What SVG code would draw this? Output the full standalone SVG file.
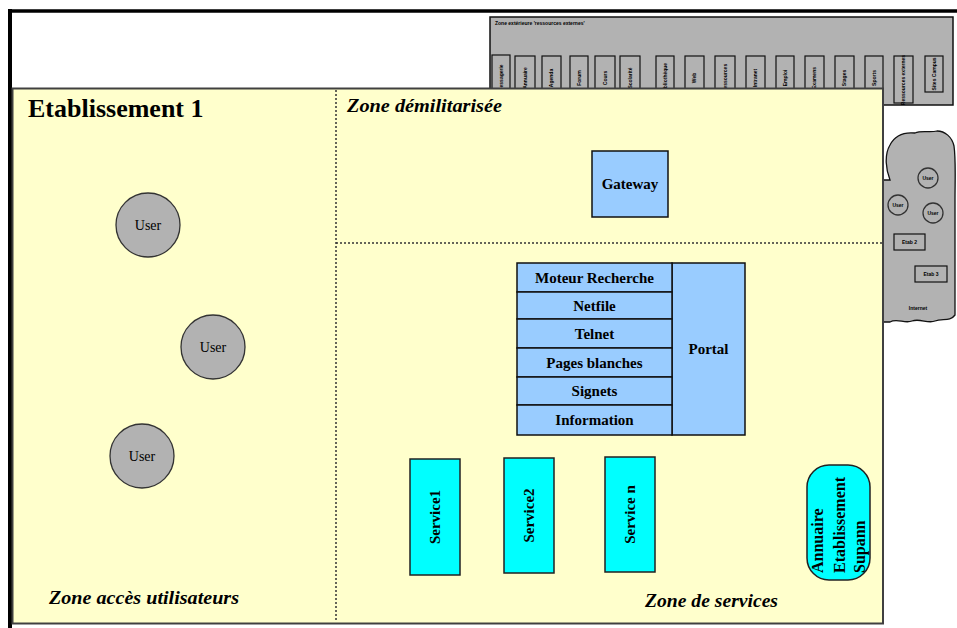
<svg xmlns="http://www.w3.org/2000/svg" width="957" height="628" viewBox="0 0 957 628">
<style>
.s{font-family:"Liberation Serif","Times New Roman",serif;fill:#000}
.b{font-weight:bold}
.zone{font-family:"Liberation Serif","Times New Roman",serif;font-weight:bold;font-style:italic;font-size:19px}
.lbl{font-family:"Liberation Serif","Times New Roman",serif;font-weight:bold;font-size:15px;text-anchor:middle}
.tiny{font-family:"Liberation Sans",Arial,sans-serif;font-weight:bold;font-size:5px}
.mini{fill:#B2B2B2;stroke:#111;stroke-width:1.2}
.user{fill:#B2B2B2;stroke:#333;stroke-width:1.3}
.blue{fill:#99CCFF;stroke:#111;stroke-width:1.5}
.cyan{fill:#00FFFF;stroke:#222;stroke-width:1.5}
.div{stroke:#333;stroke-width:1.5;stroke-dasharray:2 2;fill:none}
</style>
<rect width="957" height="628" fill="#fff"/>
<!-- outer black frame -->
<g id="frame">
<line x1="10" y1="11" x2="957" y2="11" stroke="#000" stroke-width="3.5"/>
<line x1="10" y1="9" x2="10" y2="628" stroke="#000" stroke-width="4"/>
</g>
<!-- external resources zone -->
<g id="zone-ressources">
<rect x="490" y="17" width="463" height="88" fill="#B2B2B2" stroke="#111" stroke-width="1.5"/>
<text class="tiny" x="495" y="25">Zone extérieure 'ressources externes'</text>
<rect class="mini" x="492" y="55" width="18" height="45"/>
<rect class="mini" x="515" y="56" width="20" height="44"/>
<rect class="mini" x="542" y="56" width="19" height="44"/>
<rect class="mini" x="570" y="56" width="18" height="44"/>
<rect class="mini" x="595" y="56" width="20" height="44"/>
<rect class="mini" x="620" y="56" width="20" height="44"/>
<rect class="mini" x="656" y="56" width="18" height="44"/>
<rect class="mini" x="685" y="56" width="19" height="44"/>
<rect class="mini" x="715" y="56" width="20" height="44"/>
<rect class="mini" x="746" y="56" width="19" height="44"/>
<rect class="mini" x="776" y="56" width="18" height="44"/>
<rect class="mini" x="805" y="56" width="19" height="44"/>
<rect class="mini" x="835" y="56" width="19" height="44"/>
<rect class="mini" x="865" y="56" width="18" height="44"/>
<rect class="mini" x="894" y="56" width="19" height="47"/>
<rect class="mini" x="925" y="56" width="18" height="36"/>
<g class="tiny" text-anchor="middle">
<text transform="translate(503,78) rotate(-90)">Messagerie</text>
<text transform="translate(527,78) rotate(-90)">Annuaire</text>
<text transform="translate(553,78) rotate(-90)">Agenda</text>
<text transform="translate(581,78) rotate(-90)">Forum</text>
<text transform="translate(607,78) rotate(-90)">Cours</text>
<text transform="translate(632,78) rotate(-90)">Scolarité</text>
<text transform="translate(667,78) rotate(-90)">Bibliothèque</text>
<text transform="translate(696,78) rotate(-90)">Web</text>
<text transform="translate(727,78) rotate(-90)">Ressources</text>
<text transform="translate(757,78) rotate(-90)">Intranet</text>
<text transform="translate(787,78) rotate(-90)">Emploi</text>
<text transform="translate(816,78) rotate(-90)">Examens</text>
<text transform="translate(846,78) rotate(-90)">Stages</text>
<text transform="translate(876,78) rotate(-90)">Sports</text>
<text transform="translate(905,80) rotate(-90)">Ressources externes</text>
<text transform="translate(936,74) rotate(-90)">Sites Campus</text>
</g>
</g>
<!-- internet cloud -->
<g id="internet">
<path d="M 870 180 L 890 180 C 886 170 884 155 890 145 C 895 135 905 132 915 133 C 922 130 930 133 937 131 C 945 131 952 137 954 146 C 956 160 955 180 955 200 L 955 315 C 950 322 942 318 935 321 C 928 324 920 318 912 321 C 905 324 897 318 890 322 L 870 322 Z" fill="#B2B2B2" stroke="#111" stroke-width="1.3"/>
<circle class="user" cx="928" cy="178" r="10"/>
<circle class="user" cx="898" cy="205" r="10"/>
<circle class="user" cx="933" cy="213" r="10"/>
<g class="tiny" text-anchor="middle">
<text x="928" y="180">User</text>
<text x="898" y="207">User</text>
<text x="933" y="215">User</text>
</g>
<rect x="894" y="234" width="31" height="16" fill="#B2B2B2" stroke="#111" stroke-width="1.2"/>
<rect x="915" y="266" width="32" height="16" fill="#B2B2B2" stroke="#111" stroke-width="1.2"/>
<text class="tiny" x="909.5" y="244" text-anchor="middle">Etab 2</text>
<text class="tiny" x="931" y="276" text-anchor="middle">Etab 3</text>
<text class="tiny" x="918" y="310" text-anchor="middle">Internet</text>
</g>
<!-- main establishment -->
<g id="etablissement">
<rect x="12.5" y="88.5" width="870.5" height="535" fill="#FFFFCC" stroke="#404040" stroke-width="2"/>
<text class="s b" x="28" y="117" font-size="26">Etablissement 1</text>
</g>
<g id="dividers">
<line class="div" x1="336" y1="90" x2="336" y2="622"/>
<line class="div" x1="336" y1="243" x2="882" y2="243"/>
</g>
<g id="labels">
<text class="zone" x="347" y="112" textLength="155" lengthAdjust="spacingAndGlyphs">Zone démilitarisée</text>
<text class="zone" x="49" y="604" textLength="190" lengthAdjust="spacingAndGlyphs">Zone accès utilisateurs</text>
<text class="zone" x="645" y="607" textLength="133" lengthAdjust="spacingAndGlyphs">Zone de services</text>
</g>
<g id="user1"><circle class="user" cx="148" cy="225" r="32"/><text class="s" x="148" y="230" font-size="14" text-anchor="middle">User</text></g>
<g id="user2"><circle class="user" cx="213" cy="347" r="32"/><text class="s" x="213" y="352" font-size="14" text-anchor="middle">User</text></g>
<g id="user3"><circle class="user" cx="142" cy="456" r="32"/><text class="s" x="142" y="461" font-size="14" text-anchor="middle">User</text></g>
<g id="gateway"><rect class="blue" x="592" y="151" width="76" height="66"/><text class="lbl" x="630" y="189">Gateway</text></g>
<g id="portal">
<rect class="blue" x="672" y="263" width="73" height="172"/>
<text class="lbl" x="708.5" y="354">Portal</text>
</g>
<g id="moteur-recherche"><rect class="blue" x="517" y="263" width="155" height="29"/><text class="lbl" x="594.5" y="283">Moteur Recherche</text></g>
<g id="netfile"><rect class="blue" x="517" y="292" width="155" height="27"/><text class="lbl" x="594.5" y="311">Netfile</text></g>
<g id="telnet"><rect class="blue" x="517" y="319" width="155" height="29"/><text class="lbl" x="594.5" y="339">Telnet</text></g>
<g id="pages-blanches"><rect class="blue" x="517" y="348" width="155" height="29"/><text class="lbl" x="594.5" y="368">Pages blanches</text></g>
<g id="signets"><rect class="blue" x="517" y="377" width="155" height="28"/><text class="lbl" x="594.5" y="396">Signets</text></g>
<g id="information"><rect class="blue" x="517" y="405" width="155" height="30"/><text class="lbl" x="594.5" y="425">Information</text></g>
<g id="service1"><rect class="cyan" x="410" y="459" width="50" height="116"/><text class="lbl" transform="translate(440,517) rotate(-90)">Service1</text></g>
<g id="service2"><rect class="cyan" x="504" y="458" width="50" height="115"/><text class="lbl" transform="translate(534,515.5) rotate(-90)">Service2</text></g>
<g id="servicen"><rect class="cyan" x="605" y="457" width="50" height="115"/><text class="lbl" transform="translate(635,514.5) rotate(-90)">Service n</text></g>
<g id="annuaire">
<rect class="cyan" x="807" y="465" width="63" height="115" rx="22" ry="22"/>
<g class="s b" font-size="16">
<text transform="translate(823,573) rotate(-90)">Annuaire</text>
<text transform="translate(845,573) rotate(-90)">Etablissement</text>
<text transform="translate(865,573) rotate(-90)">Supann</text>
</g>
</g>
<g id="connectors"/>
</svg>
